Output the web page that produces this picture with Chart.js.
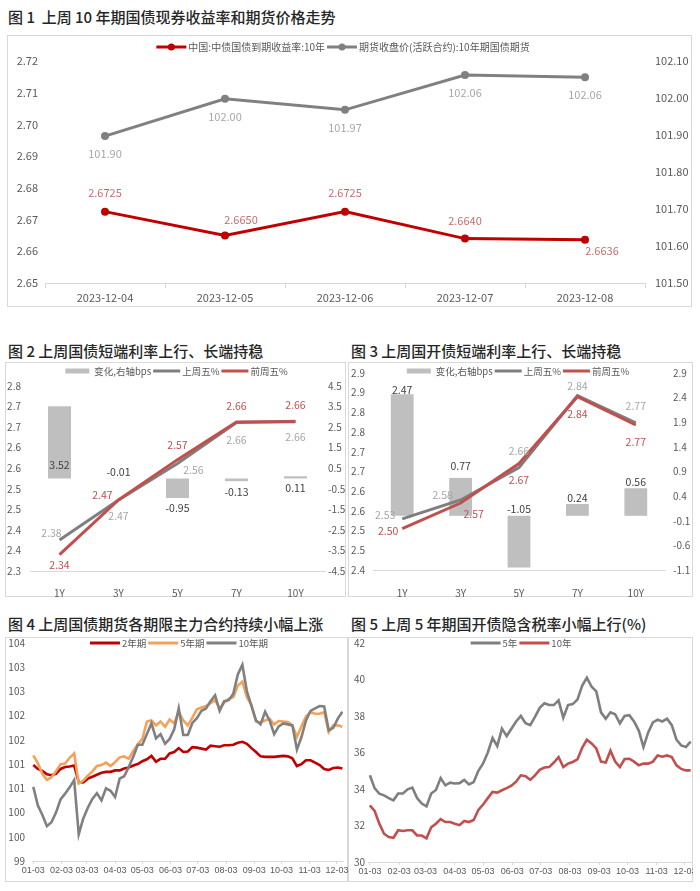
<!DOCTYPE html>
<html>
<head>
<meta charset="utf-8">
<script src="https://cdn.jsdelivr.net/npm/chart.js@4.4.0/dist/chart.umd.min.js"></script>
<style>
  body { margin: 0; background: #fff; }
  #page { position: relative; width: 700px; height: 891px; overflow: hidden; font-family: "Noto Sans CJK SC", "Noto Sans", sans-serif; }
  .title { position: absolute; font-size: 15px; font-weight: 500; color: #262626; white-space: nowrap; line-height: 20px; }
  .box { position: absolute; border: 1px solid #d9d9d9; box-sizing: border-box; }
  canvas { position: absolute; }
</style>
</head>
<body>
<div id="page">
  <div class="title" style="left:8px;top:7px">图 1&nbsp; 上周 10 年期国债现券收益率和期货价格走势</div>
  <div class="box" style="left:7px;top:35px;width:685px;height:272px"></div>
  <canvas id="c1" width="685" height="272" style="left:7px;top:35px"></canvas>

  <div class="title" style="left:8px;top:341px">图 2 上周国债短端利率上行、长端持稳</div>
  <div class="box" style="left:5px;top:362px;width:341px;height:235px"></div>
  <canvas id="c2" width="340" height="235" style="left:5px;top:362px"></canvas>

  <div class="title" style="left:351px;top:341px">图 3 上周国开债短端利率上行、长端持稳</div>
  <div class="box" style="left:348px;top:362px;width:345px;height:235px"></div>
  <canvas id="c3" width="345" height="235" style="left:348px;top:362px"></canvas>

  <div class="title" style="left:8px;top:614px">图 4 上周国债期货各期限主力合约持续小幅上涨</div>
  <div class="box" style="left:5px;top:637px;width:343px;height:245px"></div>
  <canvas id="c4" width="343" height="245" style="left:5px;top:637px"></canvas>

  <div class="title" style="left:351px;top:614px">图 5 上周 5 年期国开债隐含税率小幅上行(%)</div>
  <div class="box" style="left:348px;top:637px;width:345px;height:245px"></div>
  <canvas id="c5" width="345" height="245" style="left:348px;top:637px"></canvas>
</div>

<script>
// ---- 图1 data ----
const dates1 = ["2023-12-04", "2023-12-05", "2023-12-06", "2023-12-07", "2023-12-08"];
const yield10y = [2.6725, 2.6650, 2.6725, 2.6640, 2.6636];
const futures10y = [101.897, 101.998, 101.968, 102.062, 102.056];

// ---- 图2 / 图3 data ----
const tenors = ["1Y", "3Y", "5Y", "7Y", "10Y"];
const cgbChg = [3.52, -0.01, -0.95, -0.13, 0.11];
const cgbLast = [2.3752, 2.4726, 2.5614, 2.6610, 2.6640];
const cgbPrev = [2.3400, 2.4727, 2.5709, 2.6623, 2.6629];
const cdbChg = [2.47, 0.77, -1.05, 0.24, 0.56];
const cdbLast = [2.5296, 2.5777, 2.6597, 2.8424, 2.7736];
const cdbPrev = [2.5049, 2.5700, 2.6702, 2.8400, 2.7680];

// ---- 图4 / 图5 data (days after 2023-01-03) ----
const days = [0, 5, 10, 15, 20, 25, 30, 35, 40, 45, 50, 55, 60, 65, 70, 75, 80, 85, 90, 95,
  100, 105, 110, 115, 120, 125, 130, 135, 140, 145, 150, 155, 160, 165, 170, 175, 180, 185, 190, 195,
  200, 205, 210, 215, 220, 225, 230, 235, 240, 245, 250, 255, 260, 265, 270, 275, 280, 285, 290, 295,
  300, 305, 310, 315, 320, 325, 330, 335, 340];
const monthDays = [0, 31, 59, 90, 120, 151, 181, 212, 243, 273, 304, 334];
const monthLabels = ["01-03", "02-03", "03-03", "04-03", "05-03", "06-03", "07-03", "08-03", "09-03", "10-03", "11-03", "12-03"];

const tf2y = [100.98, 100.90, 100.86, 100.79, 100.77, 100.80, 100.90, 100.94, 100.95, 100.97,
  100.63, 100.62, 100.70, 100.74, 100.78, 100.82, 100.84, 100.84, 100.87, 100.87,
  100.91, 100.93, 100.97, 101.00, 101.06, 101.10, 101.17, 101.05, 101.11, 101.11,
  101.22, 101.25, 101.33, 101.25, 101.26, 101.35, 101.34, 101.32, 101.30, 101.38,
  101.37, 101.36, 101.39, 101.39, 101.40, 101.44, 101.46, 101.42, 101.33, 101.25,
  101.16, 101.15, 101.15, 101.15, 101.16, 101.17, 101.16, 101.12, 100.96, 101.00,
  101.08, 101.08, 101.03, 100.98, 100.90, 100.88, 100.92, 100.93, 100.91];
const tf5y = [101.18, 101.02, 100.80, 100.67, 100.73, 100.85, 101.00, 101.01, 101.13, 101.22,
  100.60, 100.66, 100.76, 100.85, 100.96, 100.98, 101.03, 100.96, 101.04, 101.14,
  101.16, 101.11, 101.27, 101.41, 101.52, 101.88, 101.90, 101.80, 101.88, 101.77,
  101.92, 101.84, 102.08, 101.90, 101.80, 101.96, 102.13, 102.17, 102.20, 102.26,
  102.32, 102.15, 102.27, 102.35, 102.38, 102.62, 102.70, 102.38, 102.22, 101.88,
  101.86, 101.90, 101.93, 101.82, 101.89, 101.88, 101.87, 101.80, 101.56, 101.78,
  101.98, 102.07, 102.04, 102.04, 102.07, 101.66, 101.80, 101.80, 101.77];
const tf10y = [100.53, 100.15, 99.95, 99.72, 99.80, 100.00, 100.27, 100.39, 100.52, 100.67,
  99.55, 99.88, 100.10, 100.28, 100.40, 100.25, 100.50, 100.45, 100.32, 100.70,
  100.75, 100.94, 101.15, 101.40, 101.40, 101.62, 101.84, 101.53, 101.62, 101.42,
  101.52, 101.72, 102.15, 101.60, 101.60, 101.85, 101.95, 102.10, 102.15, 102.30,
  102.42, 102.10, 102.30, 102.32, 102.45, 102.85, 103.05, 102.50, 102.20, 101.90,
  101.82, 102.08, 101.90, 101.62, 101.78, 101.84, 101.82, 101.80, 101.30, 101.56,
  101.90, 102.10, 102.15, 102.20, 102.19, 101.70, 101.75, 101.94, 102.08];

const tax5y = [34.75, 34.05, 33.74, 33.65, 33.50, 33.38, 33.75, 33.76, 33.98, 34.08,
  33.50, 33.20, 33.05, 33.75, 33.95, 34.60, 34.20, 34.35, 34.30, 34.32,
  34.50, 34.25, 34.38, 35.00, 35.40, 36.00, 36.80, 36.35, 37.31, 36.90,
  37.30, 37.70, 38.00, 37.60, 37.50, 37.95, 38.45, 38.70, 38.60, 38.60,
  38.86, 37.90, 38.60, 38.65, 38.90, 39.65, 40.10, 39.60, 39.35, 38.20,
  37.85, 38.20, 38.10, 37.60, 38.00, 38.04, 37.70, 37.20, 36.30, 37.10,
  37.65, 37.80, 37.70, 37.85, 37.50, 36.70, 36.39, 36.30, 36.60];
const tax10y = [33.10, 32.80, 32.10, 31.55, 31.37, 31.33, 31.74, 31.70, 31.74, 31.74,
  31.46, 31.45, 31.30, 31.90, 32.10, 32.35, 32.19, 32.19, 32.10, 32.02,
  32.25, 32.19, 32.30, 32.85, 33.15, 33.50, 33.84, 33.80, 33.93, 34.05,
  34.18, 34.40, 34.75, 34.70, 34.50, 34.75, 35.05, 35.18, 35.20, 35.45,
  35.75, 35.20, 35.39, 35.48, 35.62, 36.25, 36.70, 36.50, 36.22, 35.50,
  35.45, 36.10, 35.50, 35.20, 35.64, 35.66, 35.50, 35.30, 35.39, 35.39,
  35.50, 35.84, 35.77, 35.84, 35.75, 35.30, 35.10, 35.02, 35.02];

// ---- common ----
const FONT = '"Noto Sans CJK SC", "Noto Sans", sans-serif';
Chart.defaults.font.family = FONT;
Chart.defaults.color = "#595959";
Chart.defaults.plugins.legend.display = false;
Chart.defaults.plugins.tooltip.enabled = false;

const xy = (xs, ys) => ys.map((v, i) => ({ x: xs[i], y: v }));
const fixW = w => s => { s.width = w; s.paddingTop = 0; s.paddingBottom = 0; };
const fixH = h => s => { s.height = h; s.paddingLeft = 0; s.paddingRight = 0; };
const oneDec = v => (Math.round(v * 10 + 1e-6) / 10).toFixed(1);
const noGrid = { display: false, drawTicks: false };

// legend drawn over the plot like the original
const boxLegend = {
  id: "boxLegend",
  afterDraw(chart, args, opts) {
    if (!opts.order) return;
    const ctx = chart.ctx;
    const sw = opts.swatch || 30;
    ctx.save();
    ctx.font = opts.size + "px " + FONT;
    const sets = opts.order.map(i => chart.data.datasets[i]);
    const widths = sets.map(d => ctx.measureText(d.label).width);
    let total = 0;
    widths.forEach(w => total += sw + 2 + w + 2);
    const cx = opts.cx != null ? opts.cx : (chart.chartArea.left + chart.chartArea.right) / 2;
    let x = cx - total / 2;
    const y = opts.y;
    sets.forEach((d, i) => {
      if (d.type === "bar") {
        ctx.fillStyle = d.backgroundColor;
        ctx.fillRect(x, y - 2.5, sw - 3, 5);
      } else {
        ctx.strokeStyle = d.borderColor;
        ctx.lineWidth = 3;
        ctx.beginPath();
        ctx.moveTo(x, y);
        ctx.lineTo(x + sw, y);
        ctx.stroke();
        if (d.pointRadius > 0) {
          ctx.fillStyle = d.borderColor;
          ctx.beginPath();
          ctx.arc(x + sw / 2, y, 3.5, 0, Math.PI * 2);
          ctx.fill();
        }
      }
      x += sw + 2;
      ctx.fillStyle = "#595959";
      ctx.textAlign = "left";
      ctx.textBaseline = "middle";
      ctx.fillText(d.label, x, y);
      x += widths[i] + 2;
    });
    ctx.restore();
  }
};

// value labels next to points / bars
const valueLabels = {
  id: "valueLabels",
  afterDatasetsDraw(chart, args, opts) {
    if (!opts.sets) return;
    const ctx = chart.ctx;
    opts.sets.forEach(set => {
      const meta = chart.getDatasetMeta(set.dataset);
      const data = chart.data.datasets[set.dataset].data;
      ctx.save();
      ctx.font = set.size + "px " + FONT;
      ctx.fillStyle = set.color;
      ctx.textAlign = "center";
      ctx.textBaseline = "middle";
      meta.data.forEach((el, i) => {
        const p = set.pos[i];
        const y0 = p[2] === "base" ? el.base : el.y;
        ctx.fillText(data[i].toFixed(set.digits), el.x + p[0], y0 + p[1]);
      });
      ctx.restore();
    });
  }
};

// ---- 图1 ----
new Chart(document.getElementById("c1"), {
  type: "line",
  data: {
    labels: dates1,
    datasets: [
      { label: "中国:中债国债到期收益率:10年", data: yield10y, yAxisID: "y", borderColor: "#c00000",
        backgroundColor: "#c00000", borderWidth: 3, pointRadius: 4, pointBorderWidth: 0 },
      { label: "期货收盘价(活跃合约):10年期国债期货", data: futures10y, yAxisID: "y1", borderColor: "#808080",
        backgroundColor: "#808080", borderWidth: 3, pointRadius: 4, pointBorderWidth: 0 }
    ]
  },
  options: {
    responsive: false,
    animation: false,
    layout: { padding: { top: 26 } },
    scales: {
      x: {
        offset: true,
        grid: { offset: true, drawOnChartArea: false, tickLength: 5, color: "#d9d9d9" },
        border: { color: "#d9d9d9" },
        ticks: { padding: 3, font: { size: 11 }, autoSkip: false, maxRotation: 0 },
        afterFit: fixH(24)
      },
      y: {
        position: "left", min: 2.65, max: 2.72,
        ticks: { stepSize: 0.01, padding: 7, font: { size: 11 }, callback: v => v.toFixed(2) },
        grid: noGrid, border: { display: false },
        afterFit: fixW(38)
      },
      y1: {
        position: "right", min: 101.5, max: 102.1,
        ticks: { stepSize: 0.1, padding: 10, font: { size: 11 }, callback: v => v.toFixed(2) },
        grid: noGrid, border: { display: false },
        afterFit: fixW(47)
      }
    },
    plugins: {
      boxLegend: { order: [0, 1], y: 12, size: 10, cx: 337 },
      valueLabels: {
        sets: [
          { dataset: 0, digits: 4, size: 11, color: "#c0706e",
            pos: [[0, -19], [16, -16], [0, -19], [0, -18], [17, 11]] },
          { dataset: 1, digits: 2, size: 11, color: "#a6a6a6",
            pos: [[0, 18], [0, 18], [0, 18], [0, 18], [0, 18]] }
        ]
      }
    }
  },
  plugins: [boxLegend, valueLabels]
});

// ---- 图2 / 图3 ----
function curveChart(id, chg, last, prev, yl, yr, geo, labelPos) {
  return new Chart(document.getElementById(id), {
    type: "bar",
    data: {
      labels: tenors,
      datasets: [
        { type: "bar", label: "变化,右轴bps", data: chg, yAxisID: "y1", backgroundColor: "#bfbfbf",
          categoryPercentage: 1, barPercentage: 0.39, order: 2 },
        { type: "line", label: "上周五%", data: last, yAxisID: "y", borderColor: "#7f7f7f",
          borderWidth: 3, pointRadius: 0, order: 1 },
        { type: "line", label: "前周五%", data: prev, yAxisID: "y", borderColor: "#c0504d",
          borderWidth: 3, pointRadius: 0, order: 0 }
      ]
    },
    options: {
      responsive: false,
      animation: false,
      layout: { padding: { top: geo.top } },
      scales: {
        x: {
          grid: { display: false }, border: { color: "#d9d9d9" },
          ticks: { padding: geo.xpad, font: { size: 10 }, autoSkip: false, maxRotation: 0 },
          afterFit: fixH(geo.xh)
        },
        y: {
          position: "left", min: yl[0], max: yl[1],
          ticks: { stepSize: 0.05, padding: geo.lpad, font: { size: 10 }, callback: oneDec },
          grid: noGrid, border: { display: false },
          afterFit: fixW(geo.lw)
        },
        y1: {
          position: "right", min: yr[0], max: yr[1],
          ticks: { stepSize: yr[2], padding: geo.rpad, font: { size: 10 }, callback: v => v.toFixed(1) },
          grid: noGrid, border: { display: false },
          afterFit: fixW(geo.rw)
        }
      },
      plugins: {
        boxLegend: { order: [0, 1, 2], y: 9, size: 9.5, swatch: 27 },
        valueLabels: {
          sets: [
            { dataset: 0, digits: 2, size: 10.5, color: "#404040", pos: labelPos.bar },
            { dataset: 1, digits: 2, size: 10.5, color: "#a6a6a6", pos: labelPos.last },
            { dataset: 2, digits: 2, size: 10.5, color: "#c0504d", pos: labelPos.prev }
          ]
        }
      }
    },
    plugins: [boxLegend, valueLabels]
  });
}

curveChart("c2", cgbChg, cgbLast, cgbPrev, [2.3, 2.75], [-4.5, 4.5, 1],
  { top: 24, xh: 26, xpad: 8, lw: 25, lpad: 9, rw: 20, rpad: 3 },
  {
    bar: [[0, -13, "base"], [0, -6, "base"], [0, 10, "end"], [0, 11, "end"], [0, 10, "base"]],
    last: [[-8, -7], [0, 16], [16, 6], [0, 17], [0, 16]],
    prev: [[0, 10], [-16, -5], [0, -15], [0, -16], [0, -17]]
  });

curveChart("c3", cdbChg, cdbLast, cdbPrev, [2.4, 2.9], [-1.1, 2.9, 0.5],
  { top: 11, xh: 27, xpad: 9, lw: 25, lpad: 8, rw: 28, rpad: 8 },
  {
    bar: [[0, -4, "end"], [0, -12, "end"], [0, -7, "base"], [0, -6, "end"], [0, -6, "end"]],
    last: [[-17, -4], [-18, -5], [0, -17], [0, -10], [0, -17]],
    prev: [[-14, 2], [13, 11], [0, 16], [0, 17], [0, 17]]
  });

// ---- 图4 / 图5 ----
function seriesChart(id, sets, yr, xr, geo) {
  return new Chart(document.getElementById(id), {
    type: "line",
    data: {
      datasets: sets.map(s => ({
        label: s.label, data: xy(days, s.data), borderColor: s.color, backgroundColor: s.color,
        borderWidth: 2.6, pointRadius: 0, order: s.order
      }))
    },
    options: {
      responsive: false,
      animation: false,
      layout: { padding: { top: geo.top, right: geo.right } },
      scales: {
        x: {
          type: "linear", min: xr[0], max: xr[1],
          afterBuildTicks: s => { s.ticks = monthDays.map(v => ({ value: v })); },
          ticks: { padding: 1, font: { size: 9, family: '"Liberation Sans", Arial, sans-serif' },
            autoSkip: false, maxRotation: 0, callback: v => monthLabels[monthDays.indexOf(v)] },
          grid: { drawOnChartArea: false, tickLength: 3, color: "#d9d9d9" },
          border: { color: "#d9d9d9" },
          afterFit: fixH(geo.xh)
        },
        y: {
          min: yr[0], max: yr[1],
          ticks: { stepSize: yr[2], padding: geo.lpad, font: { size: 10 }, callback: yr[3] },
          grid: noGrid, border: { display: false },
          afterFit: fixW(geo.lw)
        }
      },
      plugins: { boxLegend: { order: sets.map((s, i) => i), y: 6, size: 9.5, cx: geo.lcx } }
    },
    plugins: [boxLegend]
  });
}

seriesChart("c4", [
  { label: "2年期", data: tf2y, color: "#c00000", order: 2 },
  { label: "5年期", data: tf5y, color: "#f4a25a", order: 1 },
  { label: "10年期", data: tf10y, color: "#808080", order: 0 }
], [99, 103.5, 0.5, v => String(Math.round(v))], [-1.4, 340.7],
  { top: 6, right: 5, xh: 21, lw: 27, lpad: 7, lcx: 175 });

seriesChart("c5", [
  { label: "5年", data: tax5y, color: "#7f7f7f", order: 0 },
  { label: "10年", data: tax10y, color: "#c0504d", order: 1 }
], [30, 42, 2, v => String(v)], [-2, 342.5],
  { top: 6, right: 0, xh: 20, lw: 20, lpad: 3, lcx: 174 });
</script>
</body>
</html>
